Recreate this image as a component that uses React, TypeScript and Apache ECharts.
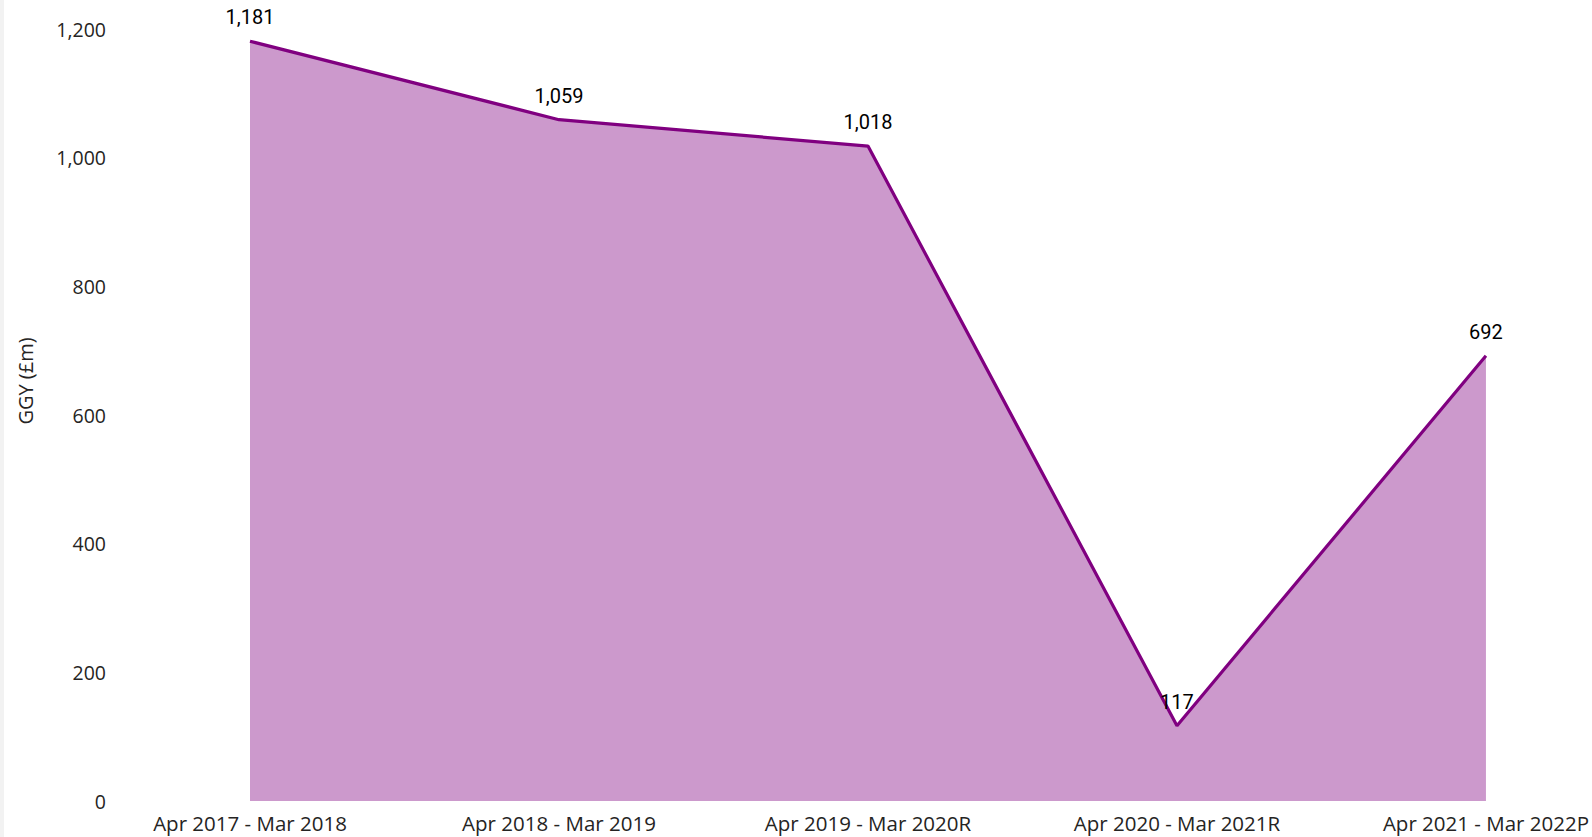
import React, { useEffect, useRef } from "react";
import * as echarts from "echarts";

const categories = [
  "Apr 2017 - Mar 2018",
  "Apr 2018 - Mar 2019",
  "Apr 2019 - Mar 2020R",
  "Apr 2020 - Mar 2021R",
  "Apr 2021 - Mar 2022P",
];
const ggyValues = [1181, 1059, 1018, 117, 692];
const yTicks = { min: 0, max: 1200, interval: 200 };
const yAxisTitle = "GGY (£m)";

export default function App() {
  const ref = useRef<HTMLDivElement>(null);
  useEffect(() => {
    const chart = echarts.init(ref.current!, null, { renderer: "svg" });
    chart.setOption({
      animation: false,
      backgroundColor: "#ffffff",
      grid: { left: 250, right: 106, top: 29, bottom: 36 },
      graphic: [
        { type: "rect", left: 0, top: 0, shape: { width: 4, height: 837 }, style: { fill: "#f2f2f2" } },
        {
          type: "text",
          x: 25,
          y: 381,
          rotation: Math.PI / 2,
          style: {
            text: yAxisTitle,
            fontFamily: "Open Sans",
            fontSize: 20,
            fill: "#252423",
            align: "center",
            verticalAlign: "middle",
          },
        },
      ],
      xAxis: {
        type: "category",
        data: categories,
        boundaryGap: false,
        axisLine: { show: false },
        axisTick: { show: false },
        axisLabel: {
          fontFamily: "Open Sans",
          fontSize: 20.5,
          color: "#252423",
          margin: 11,
          interval: 0,
        },
      },
      yAxis: {
        type: "value",
        min: yTicks.min,
        max: yTicks.max,
        interval: yTicks.interval,
        splitLine: { show: false },
        axisLine: { show: false },
        axisTick: { show: false },
        axisLabel: {
          fontFamily: "Open Sans",
          fontSize: 19.5,
          color: "#252423",
          margin: 144,
          formatter: (v: number) => v.toLocaleString("en-GB"),
        },
      },
      series: [
        {
          type: "line",
          data: ggyValues,
          symbol: "circle",
          symbolSize: 0,
          showSymbol: true,
          lineStyle: { color: "#800080", width: 3.2 },
          itemStyle: { color: "#800080" },
          areaStyle: { color: "#800080", opacity: 0.4 },
          label: {
            show: true,
            position: "top",
            distance: 14,
            fontFamily: "Roboto",
            fontWeight: "normal",
            fontSize: 20,
            color: "#000000",
            formatter: (p: any) => Number(p.value).toLocaleString("en-GB"),
          },
        },
      ],
    });
    return () => chart.dispose();
  }, []);
  return (
    <div
      ref={ref}
      style={{ position: "fixed", left: 0, top: 0, width: 1592, height: 837 }}
    />
  );
}
